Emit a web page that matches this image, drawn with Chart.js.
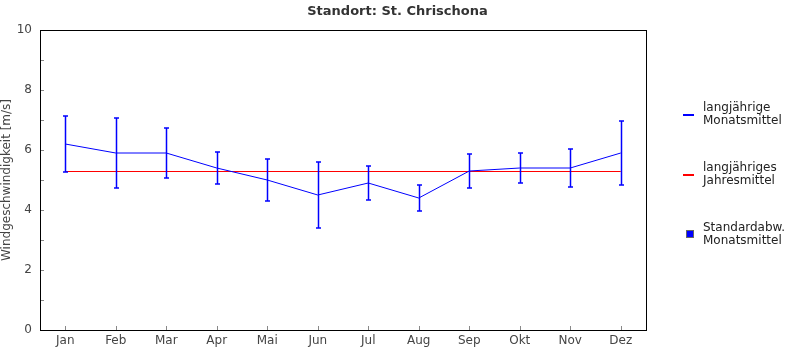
<!DOCTYPE html>
<html>
<head>
<meta charset="utf-8">
<script src="https://cdn.jsdelivr.net/npm/chart.js@4"></script>
<style>
  body { margin: 0; background: #fff; }
  #wrap { position: relative; width: 795px; height: 350px; }
  .lg { position: absolute; font: 12px 'DejaVu Sans', sans-serif; color: #222; line-height: 13px; }
  .mk { position: absolute; }
</style>
</head>
<body>
<div id="wrap">
  <canvas id="windChart" width="795" height="350"></canvas>
  <div class="mk" style="left:683px;top:114px;width:11px;height:2px;background:#0000ff"></div>
  <div class="lg" style="left:703px;top:101px">langjährige<br>Monatsmittel</div>
  <div class="mk" style="left:683px;top:174px;width:11px;height:2px;background:#ff0000"></div>
  <div class="lg" style="left:703px;top:161px">langjähriges<br>Jahresmittel</div>
  <div class="mk" style="left:686px;top:230px;width:6px;height:6px;background:#0000ff;border:1px solid #666"></div>
  <div class="lg" style="left:703px;top:221px">Standardabw.<br>Monatsmittel</div>
</div>
<script>
// Monatswerte Windgeschwindigkeit
const months = ['Jan', 'Feb', 'Mar', 'Apr', 'Mai', 'Jun', 'Jul', 'Aug', 'Sep', 'Okt', 'Nov', 'Dez'];
const monthMean = [6.2, 5.9, 5.9, 5.4, 5.0, 4.5, 4.9, 4.4, 5.3, 5.4, 5.4, 5.9];
const monthStd = [0.93, 1.17, 0.83, 0.53, 0.7, 1.1, 0.57, 0.43, 0.57, 0.5, 0.63, 1.07];
const yearMean = 5.283;
const yTicks = [0, 2, 4, 6, 8, 10];

Chart.defaults.font.family = 'DejaVu Sans';

// error bars + axis frame
const extras = {
    id: 'extras',
    afterDatasetsDraw(chart) {
        const ctx = chart.ctx;
        const xs = chart.scales.x;
        const ys = chart.scales.y;
        const a = chart.chartArea;

        ctx.save();
        ctx.strokeStyle = '#0000ff';
        ctx.lineWidth = 1.5;
        monthMean.forEach((m, i) => {
            const x = Math.round(xs.getPixelForValue(i)) + 0.5;
            const top = ys.getPixelForValue(m + monthStd[i]);
            const bot = ys.getPixelForValue(m - monthStd[i]);
            ctx.beginPath();
            ctx.moveTo(x, top); ctx.lineTo(x, bot);
            ctx.moveTo(x - 2.5, top); ctx.lineTo(x + 2.5, top);
            ctx.moveTo(x - 2.5, bot); ctx.lineTo(x + 2.5, bot);
            ctx.stroke();
        });

        // small ticks inside
        ctx.strokeStyle = '#888';
        ctx.lineWidth = 1;
        ctx.beginPath();
        months.forEach((m, i) => {
            const x = Math.round(xs.getPixelForValue(i)) + 0.5;
            ctx.moveTo(x, a.bottom); ctx.lineTo(x, a.bottom - 4);
        });
        for (let v = 1; v < 10; v++) {
            const y = Math.round(ys.getPixelForValue(v)) + 0.5;
            ctx.moveTo(a.left, y); ctx.lineTo(a.left + 4, y);
        }
        ctx.stroke();

        ctx.strokeStyle = '#000';
        ctx.lineWidth = 1;
        ctx.strokeRect(Math.round(a.left) + 0.5, Math.round(a.top) + 0.5,
            Math.round(a.right - a.left), Math.round(a.bottom - a.top));
        ctx.restore();
    }
};

let ctx = document.getElementById('windChart').getContext('2d');
new Chart(ctx, {
    type: 'line',
    data: {
        labels: months,
        datasets: [{
            label: 'langjährige Monatsmittel',
            data: monthMean,
            borderColor: '#0000ff',
            borderWidth: 1,
            pointRadius: 0,
            tension: 0
        },
        {
            label: 'langjähriges Jahresmittel',
            data: months.map(() => yearMean),
            borderColor: '#ff0000',
            borderWidth: 1.2,
            pointRadius: 0
        }]
    },
    options: {
        responsive: false,
        animation: false,
        devicePixelRatio: 1,
        layout: { padding: 0 },
        plugins: {
            legend: { display: false },
            tooltip: { enabled: false },
            title: {
                display: true,
                text: 'Standort: St. Chrischona',
                color: '#333',
                font: { size: 13, weight: 'bold' },
                padding: { top: 4, bottom: 10.4 }
            }
        },
        scales: {
            x: {
                offset: true,
                grid: { display: false, drawTicks: false },
                border: { display: false },
                ticks: { color: '#444', font: { size: 12 }, padding: 4, maxRotation: 0 },
                afterFit: function(scale) { scale.height = 20; }
            },
            y: {
                min: 0,
                max: 10,
                grid: { display: false, drawTicks: false },
                border: { display: false },
                afterBuildTicks: function(scale) { scale.ticks = yTicks.map(v => ({ value: v })); },
                ticks: { color: '#444', font: { size: 12 }, padding: 8 },
                title: {
                    display: true,
                    text: 'Windgeschwindigkeit [m/s]',
                    color: '#444',
                    font: { size: 12 },
                    padding: { top: 0, bottom: 0 }
                },
                afterFit: function(scale) { scale.width = 40; }
            },
            // empty space on the right for the legend
            yRight: {
                position: 'right',
                display: true,
                grid: { display: false },
                border: { display: false },
                ticks: { display: false },
                afterFit: function(scale) { scale.width = 149; }
            }
        }
    },
    plugins: [extras]
});
</script>
</body>
</html>
